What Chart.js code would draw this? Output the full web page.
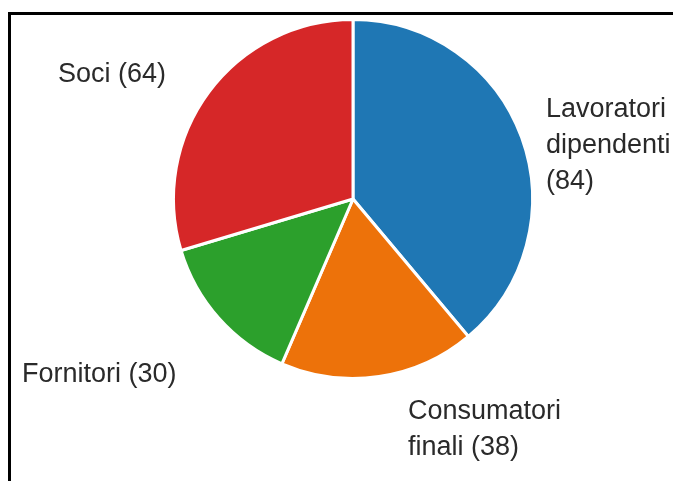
<!DOCTYPE html>
<html>
<head>
<meta charset="utf-8">
<title>Stakeholder</title>
<script src="https://cdn.jsdelivr.net/npm/chart.js@4.4.0/dist/chart.umd.min.js"></script>
<style>
  html, body { margin: 0; padding: 0; background: #fff; }
  #wrap { position: relative; width: 673px; height: 481px; }
</style>
</head>
<body>
<div id="wrap"><canvas id="pieChart"></canvas></div>
<script>
'use strict';

// Categories and counts, clockwise from 12 o'clock
let categories = ['Lavoratori\ndipendenti', 'Consumatori\nfinali', 'Fornitori', 'Soci'];
let counts = [84, 38, 30, 64];
let sliceColors = ['#1f77b4', '#ed720a', '#2ca02c', '#d62728'];
// Put the count on its own line instead of after the last word
let countOnNewLine = [true, false, false, false];

// Label placement: left edge and first line middle, measured from the pie centre
let labelOffsets = [[193, -89], [55, 213], [-331, 176], [-295, -124]];
let labelFont = '27px "Liberation Sans", Arial, sans-serif';
let labelLineHeight = 36;

function buildLabelLines(i) {
  let lines = categories[i].split('\n');
  let countText = '(' + counts[i] + ')';
  if (countOnNewLine[i]) {
    lines.push(countText);
  } else {
    lines[lines.length - 1] += ' ' + countText;
  }
  return lines;
}

// Black frame along the top and left edges
let framePlugin = {
  id: 'frame',
  beforeDraw(chart) {
    let ctx = chart.ctx;
    ctx.save();
    ctx.fillStyle = '#000';
    ctx.fillRect(8, 12, chart.width - 8, 3);
    ctx.fillRect(8, 12, 3, chart.height - 12);
    ctx.restore();
  }
};

// Text labels outside the slices
let outsideLabels = {
  id: 'outsideLabels',
  afterDatasetsDraw(chart) {
    let ctx = chart.ctx;
    let arcs = chart.getDatasetMeta(0).data;
    if (!arcs.length) return;
    let cx = arcs[0].x;
    let cy = arcs[0].y;
    ctx.save();
    ctx.font = labelFont;
    ctx.fillStyle = '#2a2a2a';
    ctx.textAlign = 'left';
    ctx.textBaseline = 'middle';
    for (let i = 0; i < arcs.length; i++) {
      let lines = buildLabelLines(i);
      let x = cx + labelOffsets[i][0];
      let y = cy + labelOffsets[i][1];
      for (let j = 0; j < lines.length; j++) {
        ctx.fillText(lines[j], x, y + j * labelLineHeight);
      }
    }
    ctx.restore();
  }
};

let ctx = document.getElementById('pieChart').getContext('2d');

new Chart(ctx, {
  type: 'pie',
  data: {
    labels: categories,
    datasets: [
      {
        data: counts,
        backgroundColor: sliceColors,
        borderColor: '#fff',
        borderWidth: 3
      }
    ]
  },
  options: {
    responsive: true,
    maintainAspectRatio: false,
    animation: false,
    layout: {
      padding: { top: 18, bottom: 101, left: 172, right: 139 }
    },
    plugins: {
      legend: { display: false },
      tooltip: { enabled: false }
    }
  },
  plugins: [framePlugin, outsideLabels]
});
</script>
</body>
</html>
